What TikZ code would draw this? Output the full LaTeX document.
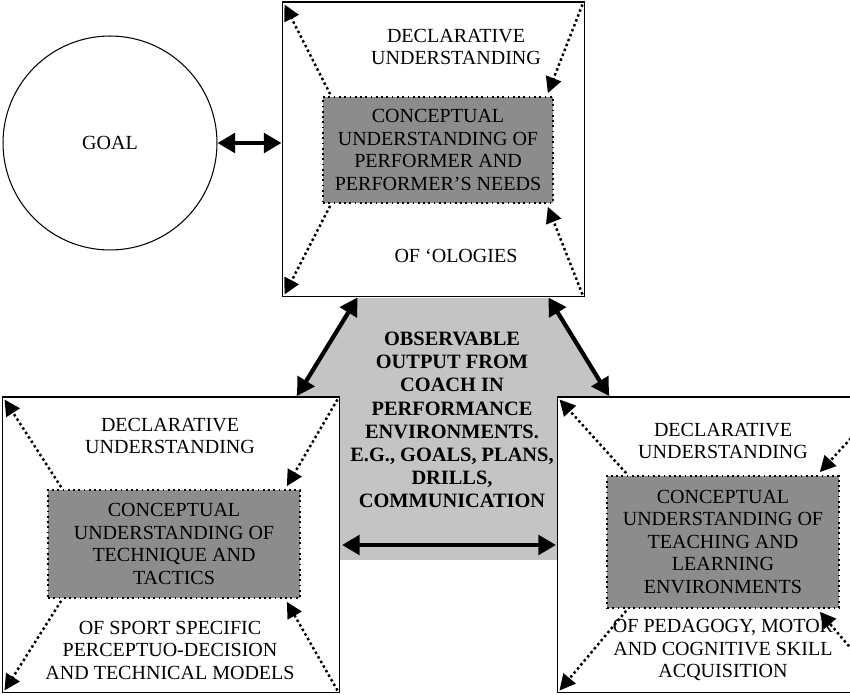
\documentclass[tikz,border=0pt]{standalone}
\usepackage{fontspec}
\setmainfont{Liberation Serif}
\usetikzlibrary{arrows.meta, positioning}
\definecolor{innergray}{HTML}{8C8C8C}
\definecolor{hexgray}{HTML}{C4C4C4}

\begin{document}
\begin{tikzpicture}[
    x=0.02cm, y=-0.02cm,
    font=\fontsize{11.4}{12.8}\selectfont,
    outerbox/.style={draw, fill=white, line width=0.6pt},
    innerbox/.style={draw, dotted, line width=1pt, fill=innergray, align=center},
    label/.style={align=center},
    dotarrow/.style={line width=1.4pt, dash pattern=on 1.4pt off 1.6pt, -{Triangle[length=9pt, width=9pt]}},
    bigarrow/.style={line width=2.4pt, {Triangle[length=10pt, width=11pt]}-{Triangle[length=10pt, width=11pt]}}
]
    \useasboundingbox (0,0) rectangle (850,695);
    \clip (0,0) rectangle (850,695);

    % Central hexagon and goal.
    \filldraw[fill=hexgray, draw=none] (355,298) -- (548,298) -- (612,398) -- (557,560) -- (340,560) -- (294,398) -- cycle;
    \node[draw, circle, line width=0.6pt, minimum size=4.28cm] (goal) at (110,143) {GOAL};

    % Three boxes.
    \node[outerbox, minimum width=6.06cm, minimum height=5.9cm] (top) at (433.5,149.5) {};
    \node[outerbox, minimum width=6.76cm, minimum height=5.92cm] (left) at (171,545) {};
    \node[outerbox, minimum width=6.64cm, minimum height=5.92cm] (right) at (723,545) {};

    \node[innerbox, minimum width=4.6cm, minimum height=2.12cm] (topin) at (438,150)
        {CONCEPTUAL\\UNDERSTANDING OF\\PERFORMER AND\\PERFORMER'S NEEDS};
    \node[innerbox, minimum width=5.04cm, minimum height=2.16cm] (leftin) at (174,544)
        {CONCEPTUAL\\UNDERSTANDING OF\\TECHNIQUE AND\\TACTICS};
    \node[innerbox, minimum width=4.64cm, minimum height=2.64cm] (rightin) at (723,542)
        {CONCEPTUAL\\UNDERSTANDING OF\\TEACHING AND\\LEARNING\\ENVIRONMENTS};

    % Labels.
    \node[label] (topdecl) at (456,47) {DECLARATIVE\\UNDERSTANDING};
    \node[label] (topolog) at (456,256) {OF `OLOGIES};
    \node[label] (leftdecl) at (170,436) {DECLARATIVE\\UNDERSTANDING};
    \node[label] (leftof) at (170,650) {OF SPORT SPECIFIC\\PERCEPTUO-DECISION\\AND TECHNICAL MODELS};
    \node[label] (rightdecl) at (723,441) {DECLARATIVE\\UNDERSTANDING};
    \node[label] (rightof) at (723,650) {OF PEDAGOGY, MOTOR\\AND COGNITIVE SKILL\\ACQUISITION};
    \node[label, font=\fontsize{11.6}{13.2}\selectfont\bfseries] (output) at (452,420)
        {OBSERVABLE\\OUTPUT FROM\\COACH IN\\PERFORMANCE\\ENVIRONMENTS.\\E.G., GOALS, PLANS,\\DRILLS,\\COMMUNICATION};

    % Dotted arrows inside the boxes.
    \path[dotarrow]
        ([shift={(8,-2)}]topin.north west) edge ([shift={(3,3)}]top.north west)
        ([shift={(-3,3)}]top.north east) edge ([shift={(-6,-3)}]topin.north east)
        ([shift={(8,2)}]topin.south west) edge ([shift={(3,-3)}]top.south west)
        ([shift={(-3,-3)}]top.south east) edge ([shift={(-6,3)}]topin.south east)
        ([shift={(14,-2)}]leftin.north west) edge ([shift={(3,3)}]left.north west)
        ([shift={(-3,3)}]left.north east) edge ([shift={(-14,-3)}]leftin.north east)
        ([shift={(14,2)}]leftin.south west) edge ([shift={(3,-3)}]left.south west)
        ([shift={(-3,-3)}]left.south east) edge ([shift={(-14,3)}]leftin.south east)
        ([shift={(20,-2)}]rightin.north west) edge ([shift={(3,3)}]right.north west)
        ([shift={(-3,3)}]right.north east) edge ([shift={(-20,-3)}]rightin.north east)
        ([shift={(20,2)}]rightin.south west) edge ([shift={(3,-3)}]right.south west)
        ([shift={(-3,-3)}]right.south east) edge ([shift={(-20,3)}]rightin.south east);

    % Thick double arrows.
    \coordinate (hexleft) at (297,396);
    \coordinate (hexright) at (609,396);
    \coordinate (hexbl) at (342,545);
    \coordinate (hexbr) at (556,545);
    \draw[bigarrow] (goal.east) -- (goal.east -| top.west);
    \draw[bigarrow] ([xshift=-1.52cm]top.south) -- (hexleft);
    \draw[bigarrow] ([xshift=2.3cm]top.south) -- (hexright);
    \draw[bigarrow] (hexbl) -- (hexbr);
\end{tikzpicture}
\end{document}
